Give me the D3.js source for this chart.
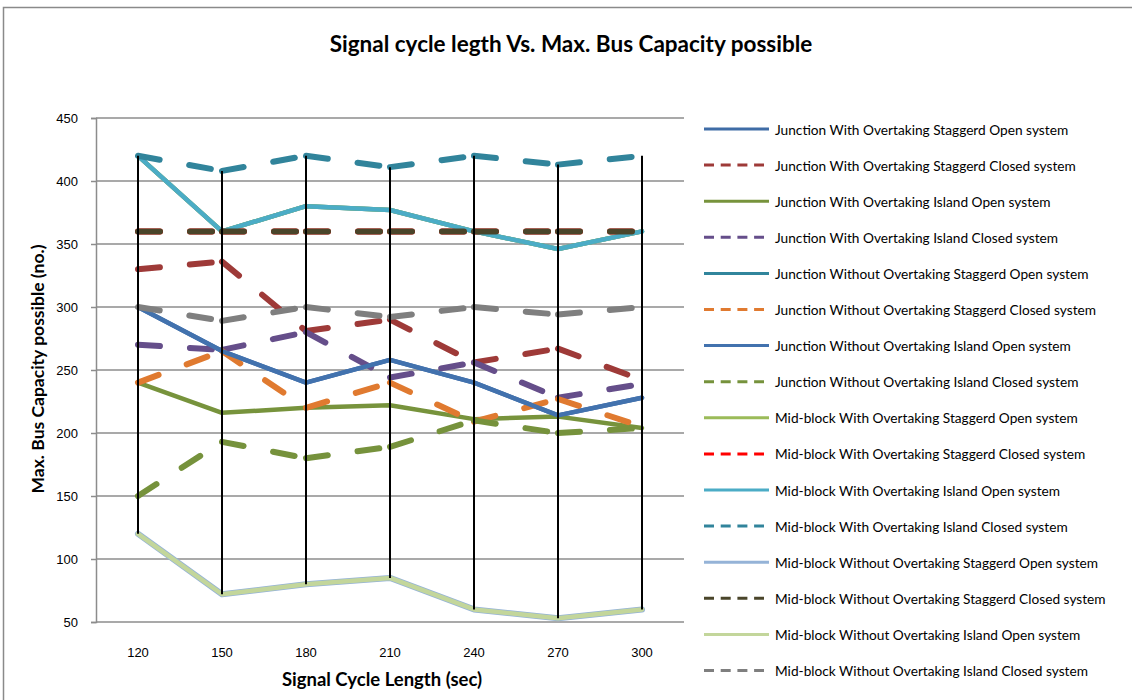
<!DOCTYPE html>
<html>
<head>
<meta charset="utf-8">
<script src="https://cdn.jsdelivr.net/npm/d3@7/dist/d3.min.js"></script>
<style>
  body { margin: 0; background: #fff; }
  svg { display: block; font-family: Lato, "Open Sans", sans-serif; }
</style>
</head>
<body>
<div id="chart"></div>
<script>
var width = 1132;
var height = 700;

// categories on the x axis (signal cycle length, sec)
var categories = [120, 150, 180, 210, 240, 270, 300];
var yTicks = [50, 100, 150, 200, 250, 300, 350, 400, 450];

var seriesNames = [
    "Junction With Overtaking Staggerd Open system",
    "Junction With Overtaking Staggerd Closed system",
    "Junction With Overtaking Island Open system",
    "Junction With Overtaking Island Closed system",
    "Junction Without Overtaking Staggerd Open system",
    "Junction Without Overtaking Staggerd Closed system",
    "Junction Without Overtaking Island Open system",
    "Junction Without Overtaking Island Closed system",
    "Mid-block With Overtaking Staggerd Open system",
    "Mid-block With Overtaking Staggerd Closed system",
    "Mid-block With Overtaking Island Open system",
    "Mid-block With Overtaking Island Closed system",
    "Mid-block Without Overtaking Staggerd Open system",
    "Mid-block Without Overtaking Staggerd Closed system",
    "Mid-block Without Overtaking Island Open system",
    "Mid-block Without Overtaking Island Closed system"
];

// values per series
var jwoStaggOpen    = [300, 265, 240, 258, 240, 214, 228];
var jwoStaggClosed  = [330, 336, 281, 290, 256, 267, 242];
var jwoIslandOpen   = [240, 216, 220, 222, 211, 213, 204];
var jwoIslandClosed = [270, 266, 280, 244, 256, 228, 239];
var jnoStaggOpen    = [420, 360, 380, 377, 360, 346, 360];
var jnoStaggClosed  = [240, 265, 220, 240, 209, 227, 205];
var jnoIslandOpen   = [300, 265, 240, 258, 240, 214, 228];
var jnoIslandClosed = [150, 193, 180, 189, 210, 200, 204];
var mwoStaggOpen    = [420, 360, 380, 377, 360, 346, 360];
var mwoStaggClosed  = [360, 360, 360, 360, 360, 360, 360];
var mwoIslandOpen   = [420, 360, 380, 377, 360, 346, 360];
var mwoIslandClosed = [420, 408, 420, 411, 420, 413, 420];
var mnoStaggOpen    = [120, 72, 80, 85, 60, 53, 60];
var mnoStaggClosed  = [360, 360, 360, 360, 360, 360, 360];
var mnoIslandOpen   = [120, 72, 80, 85, 60, 53, 60];
var mnoIslandClosed = [300, 289, 300, 292, 300, 294, 300];

var seriesValues = [
    jwoStaggOpen, jwoStaggClosed, jwoIslandOpen, jwoIslandClosed,
    jnoStaggOpen, jnoStaggClosed, jnoIslandOpen, jnoIslandClosed,
    mwoStaggOpen, mwoStaggClosed, mwoIslandOpen, mwoIslandClosed,
    mnoStaggOpen, mnoStaggClosed, mnoIslandOpen, mnoIslandClosed
];

var seriesColors = [
    "#3f6ca6", "#9e3a38", "#77933c", "#654e8a",
    "#31859c", "#e07a30", "#4272ae", "#76923c",
    "#9bbb59", "#ff0000", "#4bacc6", "#31849b",
    "#95b3d7", "#4a452a", "#c3d69b", "#7f7f7f"
];
var seriesDashed = [
    false, true, false, true, false, true, false, true,
    false, true, false, true, false, true, false, true
];

var plot = { left: 96, right: 684, top: 118, bottom: 622 };

var svg = d3.select("#chart")
    .append("svg")
    .attr("width", width)
    .attr("height", height);

// chart border
svg.append("rect")
    .attr("x", 3.5)
    .attr("y", 7.5)
    .attr("width", 1140)
    .attr("height", 710)
    .style("fill", "none")
    .style("stroke", "#8a8a8a")
    .style("stroke-width", 1.5);

var x = d3.scaleBand()
    .domain(categories)
    .range([plot.left, plot.right]);

var y = d3.scaleLinear()
    .domain([50, 450])
    .range([plot.bottom, plot.top]);

function cx(c) { return x(c) + x.bandwidth() / 2; }

// gridlines
svg.append("g")
    .selectAll("line")
    .data(yTicks)
    .enter()
    .append("line")
    .attr("x1", plot.left)
    .attr("x2", plot.right)
    .attr("y1", function (d) { return y(d); })
    .attr("y2", function (d) { return y(d); })
    .style("stroke", "#8c8c8c")
    .style("stroke-width", 1.5);

// y axis
var yAxis = svg.append("g")
    .attr("transform", "translate(" + plot.left + ",0)")
    .call(d3.axisLeft(y).tickValues(yTicks).tickSize(5).tickPadding(13));
yAxis.select(".domain").style("stroke", "#8c8c8c").style("stroke-width", 1.5);
yAxis.selectAll(".tick line").style("stroke", "#8c8c8c").style("stroke-width", 1.5);
yAxis.selectAll("text")
    .style("font-size", "13px")
    .style("fill", "#000");

// x axis
var xAxis = svg.append("g")
    .attr("transform", "translate(0," + plot.bottom + ")")
    .call(d3.axisBottom(x).tickSize(0).tickPadding(26));
xAxis.select(".domain").remove();
xAxis.selectAll("text")
    .style("font-size", "13px")
    .style("fill", "#000");

// series lines
var line = d3.line()
    .x(function (d) { return cx(d[0]); })
    .y(function (d) { return y(d[1]); });

var lines = svg.append("g");
seriesValues.forEach(function (vals, i) {
    var pts = categories.map(function (c, k) { return [c, vals[k]]; });
    if (seriesDashed[i]) {
        // dash pattern restarts on every segment
        for (var k = 0; k < pts.length - 1; k++) {
            lines.append("path")
                .attr("d", line([pts[k], pts[k + 1]]))
                .style("fill", "none")
                .style("stroke", seriesColors[i])
                .style("stroke-width", 6)
                .style("stroke-linecap", "round")
                .style("stroke-dasharray", "22,30");
        }
    } else {
        lines.append("path")
            .attr("d", line(pts))
            .style("fill", "none")
            .style("stroke", seriesColors[i])
            .style("stroke-width", i == 12 ? 6 : 4.5)
            .style("stroke-linejoin", "round")
            .style("stroke-linecap", "round");
    }
});

// high-low lines
svg.append("g")
    .selectAll("line")
    .data(categories)
    .enter()
    .append("line")
    .attr("x1", function (d) { return cx(d); })
    .attr("x2", function (d) { return cx(d); })
    .attr("y1", function (d, k) { return y(d3.max(seriesValues, function (s) { return s[k]; })); })
    .attr("y2", function (d, k) { return y(d3.min(seriesValues, function (s) { return s[k]; })); })
    .style("stroke", "#000")
    .style("stroke-width", 2);

// titles
svg.append("text")
    .attr("x", 571)
    .attr("y", 43)
    .attr("text-anchor", "middle")
    .attr("dominant-baseline", "central")
    .style("font-size", "22.5px")
    .style("font-weight", "bold")
    .text("Signal cycle legth Vs. Max. Bus Capacity possible");

svg.append("text")
    .attr("x", 382)
    .attr("y", 679)
    .attr("text-anchor", "middle")
    .attr("dominant-baseline", "central")
    .style("font-size", "18.5px")
    .style("font-weight", "bold")
    .text("Signal Cycle Length (sec)");

svg.append("text")
    .attr("transform", "translate(37,369) rotate(-90)")
    .attr("text-anchor", "middle")
    .attr("dominant-baseline", "central")
    .style("font-size", "17.5px")
    .style("font-weight", "bold")
    .text("Max. Bus Capacity possible (no.)");

// legend
var legend = svg.append("g")
    .selectAll("g")
    .data(seriesNames)
    .enter()
    .append("g")
    .attr("transform", function (d, i) { return "translate(704," + (129 + i * 36.1) + ")"; });

legend.append("line")
    .attr("x1", 0)
    .attr("x2", function (d, i) { return seriesDashed[i] ? 60 : 65; })
    .style("stroke", function (d, i) { return seriesColors[i]; })
    .style("stroke-width", 3)
    .style("stroke-dasharray", function (d, i) { return seriesDashed[i] ? "10,6.7" : null; });

legend.append("text")
    .attr("x", 71)
    .attr("dominant-baseline", "central")
    .style("font-size", "13.7px")
    .text(function (d) { return d; });
</script>
</body>
</html>
